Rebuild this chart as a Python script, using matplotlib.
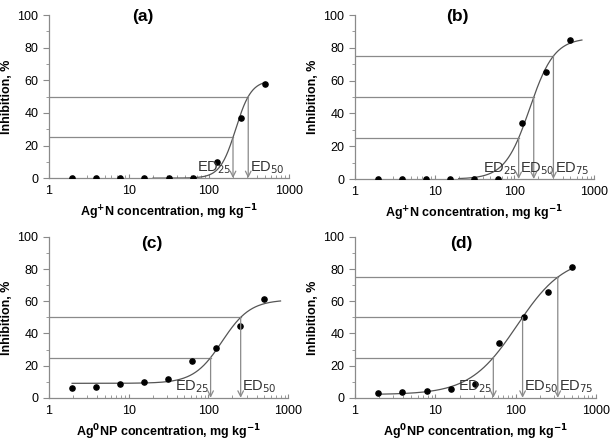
import numpy as np
import matplotlib.pyplot as plt
from matplotlib.ticker import FixedLocator, NullFormatter

plt.rcParams['font.family'] = ['Liberation Sans', 'DejaVu Sans']

# concentrations, mg/kg
conc = [1.95, 3.9, 7.8, 15.6, 31.25, 62.5, 125, 250, 500]

# inhibition, %
inh_a = [0, 0, 0, 0, 0, 0, 10, 37, 58]
inh_b = [0, 0, 0, 0, 0, 0, 34, 65, 85]
inh_c = [6, 7, 8.5, 10, 11.5, 23, 31, 44.5, 61.5]
inh_d = [3, 3.5, 4, 5.5, 8.5, 34, 50.5, 65.5, 81]

# fitted log-logistic curves: bottom, top, ED50-parameter, slope, x range
fit_a = (0, 60, 216, 4.44, 20, 500)
fit_b = (0, 86, 155, 2.8, 20, 700)
fit_c = (9, 61, 148, 2.45, 1.95, 800)
fit_d = (2, 88, 104, 1.48, 1.95, 520)

# effect levels drawn, and where the label sits
# "left": ends at its arrow, "right": starts after its arrow,
# "prev": starts after the previous arrow
ed_a = [(25, "left"), (50, "right")]
ed_b = [(25, "left"), (50, "prev"), (75, "right")]
ed_c = [(25, "left"), (50, "right")]
ed_d = [(25, "left"), (50, "right"), (75, "right")]

xlab_ion = "Ag$^{\\mathbf{+}}$N concentration, mg kg$^{\\mathbf{-1}}$"
xlab_np = "Ag$^{\\mathbf{0}}$NP concentration, mg kg$^{\\mathbf{-1}}$"

GRAY = "#8a8a8a"


def model(x, fit):
    lo, hi, e, b = fit[:4]
    return lo + (hi - lo) / (1 + (x / e) ** (-b))


def inverse(y, fit):
    lo, hi, e, b = fit[:4]
    return e * ((hi - lo) / (y - lo) - 1) ** (-1.0 / b)


def panel(ax, title, tx, ty, y, fit, eds, xlabel):
    xs = np.logspace(np.log10(fit[4]), np.log10(fit[5]), 300)
    ax.plot(xs, model(xs, fit), color="#555555", lw=0.9, zorder=2)
    ax.scatter(conc, y, s=14, color="black", zorder=3)

    prev = None
    for lvl, side in eds:
        xe = inverse(lvl, fit)
        ax.plot([1, xe], [lvl, lvl], color=GRAY, lw=0.9, zorder=1)
        ax.annotate("", xy=(xe, 0), xytext=(xe, lvl),
                    arrowprops=dict(arrowstyle="->", color=GRAY, lw=0.9,
                                    shrinkA=0, shrinkB=0))
        lab = "ED$_{%d}$" % lvl
        kw = dict(va="bottom", fontsize=10.5, color="#333333")
        if side == "left":
            ax.text(xe * 0.97, 1.5, lab, ha="right", **kw)
        elif side == "prev":
            ax.text(prev * 1.03, 1.5, lab, ha="left", **kw)
        else:
            ax.text(xe * 1.04, 1.5, lab, ha="left", **kw)
        prev = xe

    ax.set_xscale("log")
    ax.set_xlim(1, 1000)
    ax.set_ylim(0, 100)
    ax.set_yticks([0, 20, 40, 60, 80, 100])
    ax.yaxis.set_minor_locator(FixedLocator([10, 30, 50, 70, 90]))
    ax.xaxis.set_major_locator(FixedLocator([1, 10, 100, 1000]))
    ax.set_xticklabels(["1", "10", "100", "1000"])
    ax.xaxis.set_minor_formatter(NullFormatter())
    for s in ["top", "right"]:
        ax.spines[s].set_visible(False)
    for s in ["left", "bottom"]:
        ax.spines[s].set_color(GRAY)
        ax.spines[s].set_linewidth(0.9)
    ax.tick_params(axis="y", which="major", labelsize=9, color=GRAY,
                   length=4, width=0.8)
    ax.tick_params(axis="x", which="major", labelsize=9, color=GRAY,
                   direction="in", length=3, width=0.8, pad=5)
    ax.tick_params(axis="x", which="minor", direction="in", length=2.5,
                   color=GRAY, width=0.6)
    ax.tick_params(axis="y", which="minor", length=2.5, color=GRAY, width=0.6)
    ax.set_xlabel(xlabel, fontsize=9, fontweight="bold", labelpad=4)
    ax.set_ylabel("Inhibition, %", fontsize=9, fontweight="bold", labelpad=3)
    ax.text(tx, ty, title, transform=ax.transAxes, ha="center", va="center",
            fontsize=12.5, fontweight="bold")


fig = plt.figure(figsize=(6.12, 4.42), dpi=100)
ax_a = fig.add_axes([0.080, 0.597, 0.392, 0.369])
ax_b = fig.add_axes([0.580, 0.595, 0.391, 0.371])
ax_c = fig.add_axes([0.080, 0.100, 0.391, 0.364])
ax_d = fig.add_axes([0.580, 0.100, 0.394, 0.364])

panel(ax_a, "(a)", 0.39, 0.99, inh_a, fit_a, ed_a, xlab_ion)
panel(ax_b, "(b)", 0.43, 0.99, inh_b, fit_b, ed_b, xlab_ion)
panel(ax_c, "(c)", 0.43, 0.96, inh_c, fit_c, ed_c, xlab_np)
panel(ax_d, "(d)", 0.44, 0.96, inh_d, fit_d, ed_d, xlab_np)

fig.savefig("out.png", dpi=100)
